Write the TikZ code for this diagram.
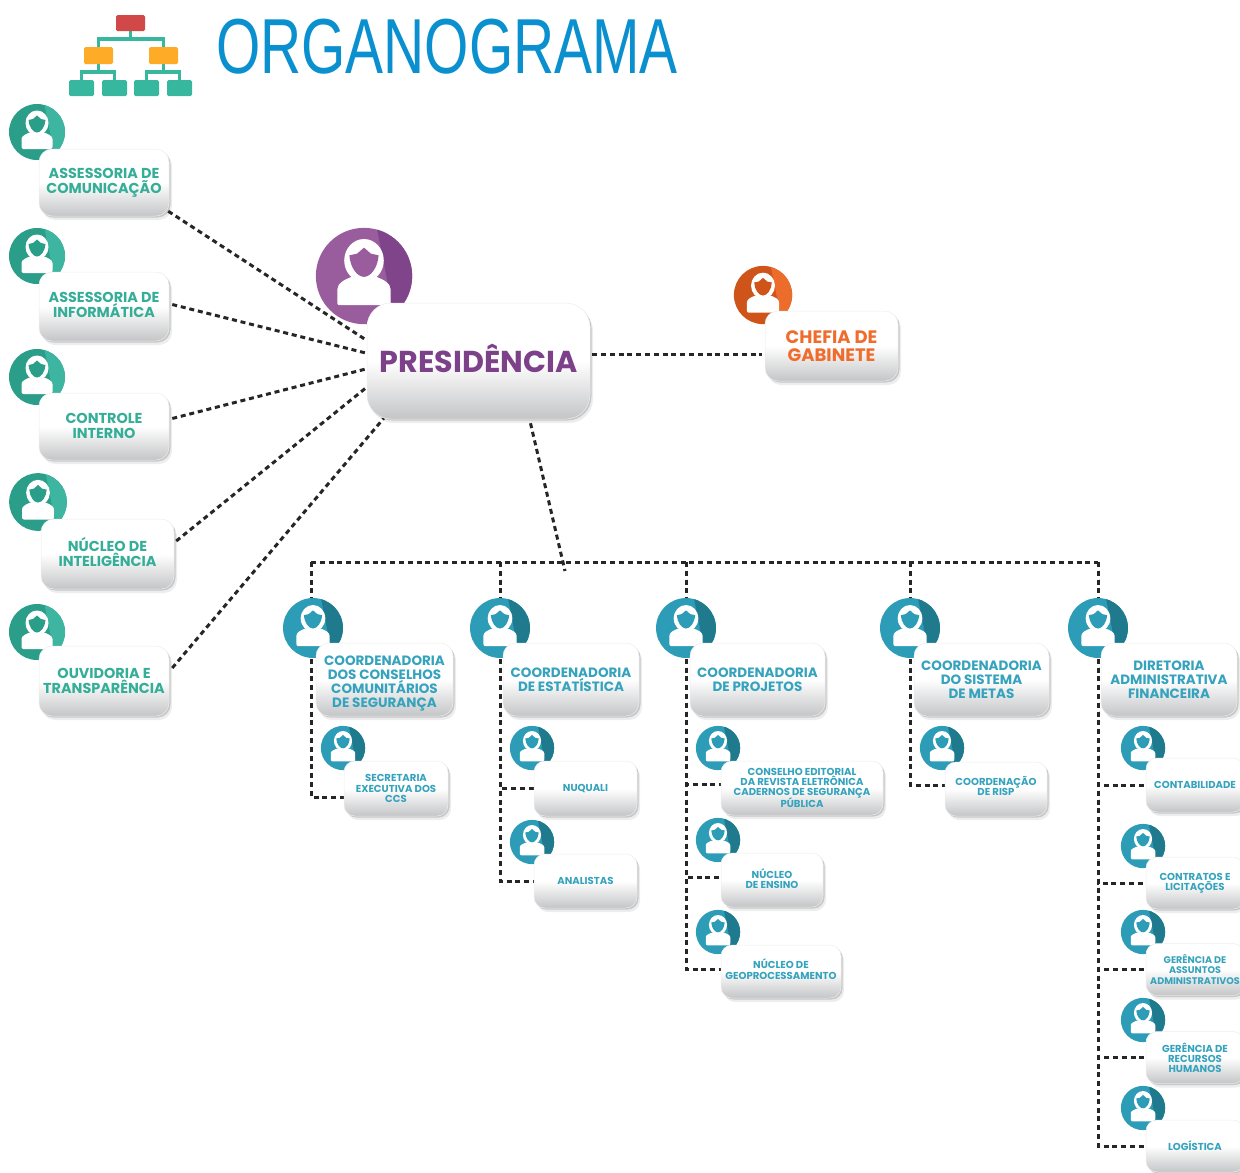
\documentclass[tikz,border=0pt]{standalone}
\usepackage{fontspec}
\setmainfont{Poppins}
\newfontfamily\titlefont[FakeStretch=0.73]{Liberation Sans}
\usetikzlibrary{shadows,calc}
\definecolor{tealL}{HTML}{2B9E8A}\definecolor{tealR}{HTML}{3DB5A0}\definecolor{tealT}{HTML}{35AE98}
\definecolor{purL}{HTML}{995C9C}\definecolor{purR}{HTML}{7F4489}\definecolor{purT}{HTML}{7D4189}
\definecolor{orgL}{HTML}{CF5419}\definecolor{orgR}{HTML}{EC6C2C}\definecolor{orgT}{HTML}{EF6C2C}
\definecolor{bluL}{HTML}{2C9CB7}\definecolor{bluR}{HTML}{1F7A8E}\definecolor{bluT}{HTML}{35A3BD}
\definecolor{boxgrey}{HTML}{C4C5C7}\definecolor{icoT}{HTML}{37B79E}\definecolor{icoO}{HTML}{FEAC27}\definecolor{icoR}{HTML}{D04848}
\definecolor{titleblue}{HTML}{0A90CF}
\newcommand{\txtup}[1]{\rule[-#1pt]{0pt}{0pt}}
\newcommand{\txtdown}[1]{\rule{0pt}{#1pt}}
\pgfdeclarelayer{conn}\pgfdeclarelayer{av}\pgfsetlayers{conn,av,main}
\tikzset{
  bx/.style={rectangle,rounded corners=13,inner sep=0pt,align=center,draw=black!7,line width=.5pt,top color=white,bottom color=boxgrey,middle color=white,
    drop shadow={shadow xshift=3pt,shadow yshift=-4pt,opacity=.07,fill=black},
    drop shadow={shadow xshift=1.5pt,shadow yshift=-1.5pt,opacity=.16,fill=black}},
  fsA/.style={font=\fontsize{14.4}{15}\selectfont\bfseries},
  fsB/.style={font=\fontsize{13.5}{14}\selectfont\bfseries},
  fsC/.style={font=\fontsize{10.1}{10.2}\selectfont\bfseries,rounded corners=11},
  tl/.style={text=tealT,fsA},
  bl/.style={text=bluT,fsB},
  sb/.style={text=bluT,fsC},
  dl/.style={draw=black!85,line width=3pt,dash pattern=on 5pt off 3.8pt},
  ico/.style={rectangle,rounded corners=1.5,inner sep=0pt},
  icoline/.style={draw=icoT,line width=3.8pt},
  pics/avatar/.style n args={2}{code={
    \fill[#1] (0,0) circle (28);
    \begin{scope}
      \clip (0,0) circle (28);
      \fill[#2] (7,-30) -- (12,-5) -- (16,16) -- (3,30) -- (32,30) -- (32,-30) -- cycle;
    \end{scope}
    \fill[white,rounded corners=2] (-15.5,17) -- (-15.5,9) .. controls (-15.5,4) and (-11,2) .. (-6,0) -- (0,4) -- (6,0) .. controls (11,2) and (15.5,4) .. (15.5,9) -- (15.5,17) -- cycle;
    \fill[white] (0,-9) ellipse [x radius=11.5,y radius=12.5];
    \fill[#1] (-8.5,-12) -- (-4,-13) -- (0,-16.5) -- (4,-13) -- (8.5,-12) .. controls (8,-5) and (4,0.5) .. (0,0.5) .. controls (-4,0.5) and (-8,-5) .. (-8.5,-12) -- cycle;
  }}
}
\begin{document}
\begin{tikzpicture}[x=1pt,y=-1pt]
\useasboundingbox (0,0) rectangle (1240,1173);
\clip (0,0) rectangle (1240,1173);
% title
\node[text=titleblue,inner sep=0pt,font=\titlefont\fontsize{78}{78}\selectfont] (title) at (447,47) {ORGANOGRAMA};
% icon
\node[ico,fill=icoR,minimum width=29pt,minimum height=16pt] (ir) at (130.5,23) {};
\node[ico,fill=icoO,minimum width=29pt,minimum height=17pt] (io1) at (98.5,55.5) {};
\node[ico,fill=icoO,minimum width=29pt,minimum height=17pt] (io2) at (163.5,55.5) {};
\node[ico,fill=icoT,minimum width=25pt,minimum height=16pt] (it1) at (81.5,88) {};
\node[ico,fill=icoT,minimum width=25pt,minimum height=16pt] (it2) at (114.5,88) {};
\node[ico,fill=icoT,minimum width=25pt,minimum height=16pt] (it3) at (146.5,88) {};
\node[ico,fill=icoT,minimum width=25pt,minimum height=16pt] (it4) at (179.5,88) {};
\begin{pgfonlayer}{conn}
\coordinate (ir0) at (130.5,39);\coordinate (o10) at (98.5,72);\coordinate (o20) at (163.5,72);
\draw[icoline] (ir) -- (ir0);
\draw[icoline] (io1) |- (ir0) -| (io2);
\draw[icoline] (io1) -- (o10);\draw[icoline] (io2) -- (o20);
\draw[icoline] (it1) |- (o10) -| (it2);
\draw[icoline] (it3) |- (o20) -| (it4);
\end{pgfonlayer}
% avatars
\begin{pgfonlayer}{av}
\pic[scale=1] at (37,132) {avatar={tealL}{tealR}};
\pic[scale=1] at (37,256) {avatar={tealL}{tealR}};
\pic[scale=1] at (37,377) {avatar={tealL}{tealR}};
\pic[scale=1.03] at (38,502) {avatar={tealL}{tealR}};
\pic[scale=1] at (37,632) {avatar={tealL}{tealR}};
\pic[scale=1.72] at (364,276) {avatar={purL}{purR}};
\pic[scale=1.04] at (763,295) {avatar={orgL}{orgR}};
\foreach \x in {313,500,686,910,1098} {\pic[scale=1.07] at (\x,628) {avatar={bluL}{bluR}};}
\foreach \x/\y in {343/748,532/748,532/842,718/748,718/840,718/932,942/748,1143/748,1143/846,1143/932,1143/1020,1143/1108}
  {\pic[scale=.79] at (\x,\y) {avatar={bluL}{bluR}};}
\end{pgfonlayer}
% left boxes
\node[bx,tl,minimum width=130pt,minimum height=67pt] (ac) at (104,182.5) {ASSESSORIA DE\\COMUNICAÇÃO};
\node[bx,tl,minimum width=130pt,minimum height=69pt] (ai) at (104,306.5) {ASSESSORIA DE\\INFORMÁTICA\txtup{4}};
\node[bx,tl,minimum width=130pt,minimum height=67pt] (ci) at (104,426.5) {CONTROLE\\INTERNO\txtup{2}};
\node[bx,tl,minimum width=133pt,minimum height=70pt] (ni) at (107.5,554) {NÚCLEO DE\\INTELIGÊNCIA\txtup{4}};
\node[bx,tl,minimum width=130pt,minimum height=70pt] (ot) at (104,681) {OUVIDORIA E\\TRANSPARÊNCIA};
% top
\node[bx,rounded corners=24,text=purT,font=\fontsize{30.2}{31}\selectfont\bfseries,minimum width=223pt,minimum height=116pt] (pres) at (478.5,361) {PRESIDÊNCIA\txtup{6}};
\node[bx,text=orgT,font=\fontsize{18}{17.5}\selectfont\bfseries,minimum width=133pt,minimum height=70pt] (chefe) at (831.5,346) {CHEFIA DE\\GABINETE};
% coordinations
\node[bx,bl,minimum width=137pt,minimum height=73pt] (ccs) at (384.5,679.5) {\txtdown{18}COORDENADORIA\\DOS CONSELHOS\\COMUNITÁRIOS\\DE SEGURANÇA};
\node[bx,bl,minimum width=136pt,minimum height=73pt] (est) at (571,679.5) {COORDENADORIA\\DE ESTATÍSTICA};
\node[bx,bl,minimum width=135pt,minimum height=73pt] (proj) at (757.5,679.5) {COORDENADORIA\\DE PROJETOS};
\node[bx,bl,minimum width=135pt,minimum height=73pt] (met) at (981.5,679.5) {COORDENADORIA\\DO SISTEMA\\DE METAS};
\node[bx,bl,minimum width=136pt,minimum height=73pt] (dir) at (1169,679.5) {DIRETORIA\\ADMINISTRATIVA\\FINANCEIRA};
% small
\node[bx,sb,minimum width=104pt,minimum height=55pt] (sec) at (396,788.5) {SECRETARIA\\EXECUTIVA DOS\\CCS};
\node[bx,sb,minimum width=103pt,minimum height=55pt] (nuq) at (585.5,788.5) {NUQUALI};
\node[bx,sb,minimum width=103pt,minimum height=54pt] (ana) at (585.5,881) {ANALISTAS};
\node[bx,sb,minimum width=162pt,minimum height=54pt] (cons) at (802,788) {CONSELHO EDITORIAL\\DA REVISTA ELETRÔNICA\\CADERNOS DE SEGURANÇA\\[-2pt]PÚBLICA};
\node[bx,sb,minimum width=102pt,minimum height=54pt] (ens) at (772,880) {NÚCLEO\\DE ENSINO\txtup{3}};
\node[bx,sb,minimum width=120pt,minimum height=53pt] (geo) at (781,971.5) {NÚCLEO DE\\GEOPROCESSAMENTO\txtup{5}};
\node[bx,sb,minimum width=102pt,minimum height=54pt] (risp) at (996,789) {COORDENAÇÃO\\DE RISP\txtup{6}};
\node[bx,sb,minimum width=98pt,minimum height=54pt] (cont) at (1195,785) {CONTABILIDADE};
\node[bx,sb,minimum width=98pt,minimum height=52pt] (lic) at (1195,883) {CONTRATOS E\\LICITAÇÕES};
\node[bx,sb,font=\fontsize{9.6}{10.2}\selectfont\bfseries,minimum width=98pt,minimum height=52pt] (adm) at (1195,969.5) {GERÊNCIA DE\\ASSUNTOS\\ADMINISTRATIVOS};
\node[bx,sb,minimum width=98pt,minimum height=52pt] (rh) at (1195,1057.5) {GERÊNCIA DE\\RECURSOS\\HUMANOS};
\node[bx,sb,minimum width=98pt,minimum height=52pt] (log) at (1195,1146) {LOGÍSTICA};
% connectors
\begin{pgfonlayer}{conn}
\coordinate (drop) at (565,571);
\coordinate (bL) at (311,562);\coordinate (bR) at (1098,562);
\coordinate (b2) at (500,562);\coordinate (b3) at (686,562);\coordinate (b4) at (910,562);
\draw[dl] ([shift={(-1,-5)}]ac.south east) -- ([shift={(-1,37)}]pres.north west);
\draw[dl] ([shift={(3,-2)}]ai.east) -- ([shift={(-1,-8)}]pres.west);
\draw[dl] ([shift={(3,-8)}]ci.east) -- ([shift={(-1,8)}]pres.west);
\draw[dl] ([shift={(2,-13)}]ni.east) -- ([shift={(-1,27)}]pres.west);
\draw[dl] ([shift={(3,-13)}]ot.east) -- ([shift={(17,-1)}]pres.south west);
\draw[dl] ([shift={(2,-7)}]pres.east) -- ([shift={(-3,8)}]chefe.west);
\draw[dl] ([shift={(52,4)}]pres.south) -- (drop);
\draw[dl] (bL) -- (bR);
\draw[dl] (bL) |- ([yshift=-8.5pt]sec.west);
\draw[dl] (b2) |- (nuq.west);
\draw[dl] (b2) |- (ana.west);
\draw[dl] (b3) |- ([yshift=4pt]cons.west);
\draw[dl] (b3) |- ([yshift=3pt]ens.west);
\draw[dl] (b3) |- ([yshift=2.5pt]geo.west);
\draw[dl] (b4) |- ([yshift=4pt]risp.west);
\draw[dl] (bR) |- (cont.west);
\draw[dl] (bR) |- (lic.west);
\draw[dl] (bR) |- (adm.west);
\draw[dl] (bR) |- (rh.west);
\draw[dl] (bR) |- (log.west);
\end{pgfonlayer}
\end{tikzpicture}
\end{document}
